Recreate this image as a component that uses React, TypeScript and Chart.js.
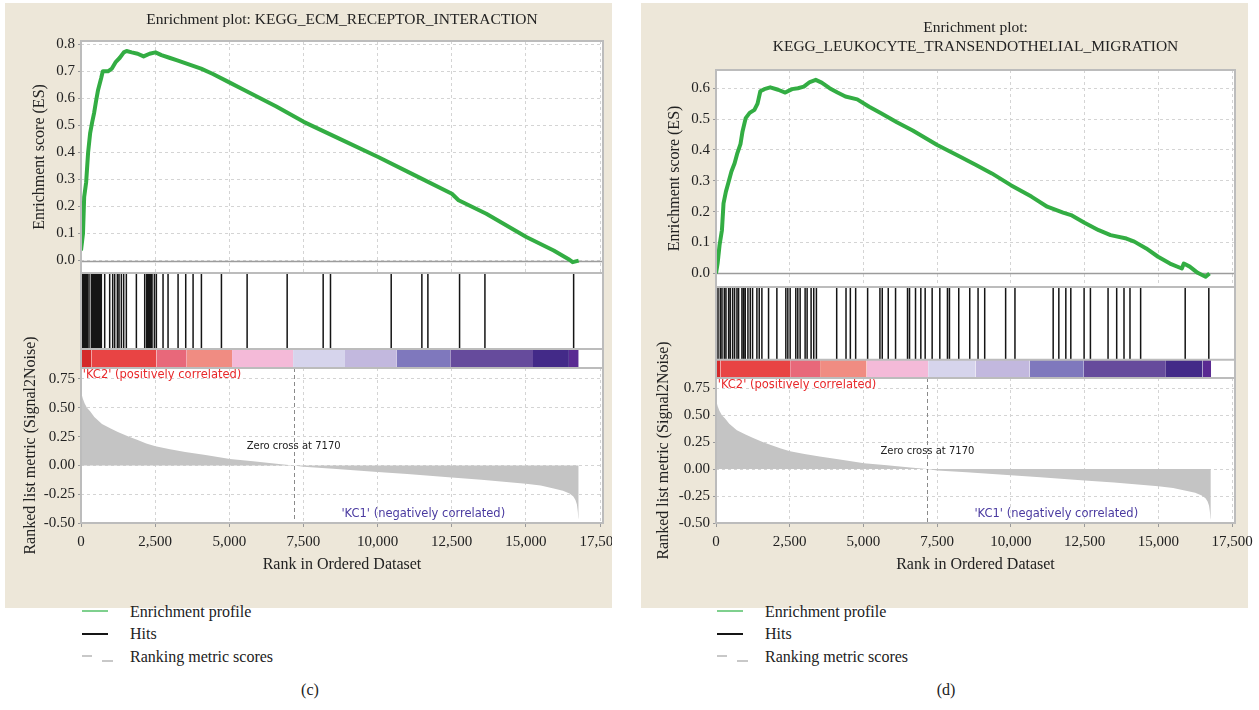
import React, { useEffect, useRef } from "react";
import { Chart, registerables } from "chart.js";

Chart.register(...registerables);

const SERIF = "'Liberation Serif', 'Times New Roman', serif";
const SANS = "'DejaVu Sans', 'Liberation Sans', Arial, sans-serif";
Chart.defaults.font.family = SERIF;
Chart.defaults.color = "#222";

// ---------------- data ----------------
const RANK_MAX = 17600;
const ZERO_CROSS = 7170;
const xTickValues = [0, 2500, 5000, 7500, 10000, 12500, 15000, 17500];

const legendLabels = ["Enrichment profile", "Hits", "Ranking metric scores"];
const captions = ["(c)", "(d)"];
const titleLeft = ["Enrichment plot: KEGG_ECM_RECEPTOR_INTERACTION"];
const titleRight = ["Enrichment plot:", "KEGG_LEUKOCYTE_TRANSENDOTHELIAL_MIGRATION"];
const esAxisTitle = "Enrichment score (ES)";
const rankAxisTitle = "Ranked list metric (Signal2Noise)";
const xAxisTitle = "Rank in Ordered Dataset";
const posLabel = "'KC2' (positively correlated)";
const negLabel = "'KC1' (negatively correlated)";
const zeroLabel = "Zero cross at 7170";

// ranked list metric (shared ranked list)
const metricRanks = [0, 20, 60, 120, 200, 307, 450, 708, 1000, 1242, 1600, 1910, 2200, 2511, 3000, 3513, 4200, 5023, 5800, 6586, 7170, 7500, 8500, 10000, 11000, 12500, 13500, 15000, 15500, 15937, 16250, 16471, 16600, 16671, 16720, 16750, 16765, 16780];
const metricValues = [0.645, 0.62, 0.58, 0.54, 0.5, 0.47, 0.42, 0.36, 0.32, 0.29, 0.25, 0.22, 0.19, 0.165, 0.14, 0.117, 0.09, 0.055, 0.035, 0.015, 0.0, -0.012, -0.03, -0.058, -0.075, -0.105, -0.125, -0.16, -0.175, -0.2, -0.22, -0.245, -0.27, -0.3, -0.34, -0.4, -0.45, -0.47];

// panel (c)
const esLeftRanks = [0, 67, 107, 174, 240, 307, 374, 441, 508, 574, 681, 735, 908, 1042, 1176, 1309, 1443, 1536, 1710, 1910, 2111, 2311, 2511, 2712, 2979, 3246, 3513, 3780, 4048, 4448, 4983, 5517, 6586, 7507, 8723, 10019, 11261, 12504, 12731, 13666, 15015, 15937, 16471, 16578, 16780];
const esLeftScores = [0.037, 0.1, 0.235, 0.29, 0.4, 0.47, 0.51, 0.545, 0.59, 0.63, 0.675, 0.7, 0.7, 0.71, 0.735, 0.75, 0.77, 0.775, 0.77, 0.765, 0.755, 0.765, 0.77, 0.76, 0.75, 0.74, 0.73, 0.72, 0.71, 0.69, 0.66, 0.63, 0.57, 0.513, 0.45, 0.383, 0.315, 0.247, 0.223, 0.173, 0.087, 0.037, 0.003, -0.006, 0.0];
const hitsLeft = [34, 80, 124, 170, 213, 270, 348, 390, 427, 470, 517, 560, 607, 650, 686, 799, 967, 1068, 1136, 1226, 1282, 1361, 1439, 1529, 1867, 2148, 2215, 2261, 2306, 2350, 2395, 2474, 2541, 2766, 2935, 3273, 3531, 3779, 4060, 4735, 5601, 6951, 8165, 8412, 10459, 11493, 11696, 12764, 13619, 16610];
const barLeftStops = [0, 350, 2541, 3565, 5094, 7152, 8900, 10650, 12450, 15240, 16450, 16780];
const barLeftColors = ["#d42a2a", "#e84444", "#e8687a", "#f08c82", "#f4bad8", "#d6d4ec", "#c2b8de", "#7f78bd", "#664b9c", "#432a88", "#5a2a92"];

// panel (d)
const esRightRanks = [0, 54, 121, 201, 255, 336, 429, 523, 631, 725, 832, 899, 1007, 1141, 1302, 1409, 1503, 1637, 1839, 2107, 2349, 2577, 2778, 2979, 3181, 3382, 3583, 3852, 4120, 4389, 4791, 5194, 5597, 6133, 6670, 7502, 8281, 8818, 9354, 9998, 10696, 11233, 11770, 12039, 12495, 12978, 13381, 13918, 14186, 14589, 14991, 15394, 15797, 15864, 16065, 16334, 16602, 16736];
const esRightScores = [0.0, 0.032, 0.092, 0.14, 0.227, 0.265, 0.297, 0.33, 0.357, 0.39, 0.42, 0.46, 0.503, 0.52, 0.53, 0.55, 0.59, 0.597, 0.603, 0.595, 0.586, 0.597, 0.6, 0.605, 0.62, 0.627, 0.618, 0.6, 0.586, 0.573, 0.564, 0.54, 0.519, 0.49, 0.463, 0.416, 0.378, 0.351, 0.324, 0.286, 0.249, 0.216, 0.197, 0.189, 0.164, 0.14, 0.124, 0.113, 0.103, 0.081, 0.054, 0.032, 0.016, 0.032, 0.022, 0.002, -0.011, 0.0];
const hitsRight = [68, 146, 203, 282, 338, 428, 485, 564, 631, 710, 767, 879, 936, 992, 1083, 1161, 1240, 1387, 1466, 1556, 1782, 2064, 2368, 2436, 2515, 2706, 2774, 2853, 3022, 3090, 3225, 3315, 3405, 4093, 4409, 4556, 4736, 5142, 5559, 5638, 5841, 6089, 6495, 6563, 6766, 6946, 7093, 7330, 7590, 7849, 7917, 8232, 8605, 8887, 9112, 9822, 10138, 11434, 11626, 11863, 12032, 12483, 12697, 13295, 13588, 13836, 14039, 14400, 15911, 16712];
const barRightStops = [0, 150, 2515, 3529, 5108, 7195, 8800, 10634, 12472, 15257, 16500, 16790];
const barRightColors = ["#d42a2a", "#e84444", "#e8687a", "#f08c82", "#f4bad8", "#d6d4ec", "#c2b8de", "#7f78bd", "#664b9c", "#432a88", "#5a2a92"];

// ---------------- styling ----------------
const BEIGE = "#ede7d9";
const ES_GREEN = "#33ad43";
const GRID = "#d4d4d4";
const FRAME = "#bcbcbc";

const fmtThousands = (v: number) => String(Math.round(v)).replace(/\B(?=(\d{3})+(?!\d))/g, ",");

const gseaPlugin: any = {
  id: "gsea",
  beforeDraw(chart: any) {
    const { ctx, chartArea: a } = chart;
    ctx.save();
    ctx.fillStyle = "#ffffff";
    ctx.fillRect(a.left, a.top, a.right - a.left, a.bottom - a.top);
    ctx.restore();
  },
  beforeDatasetsDraw(chart: any, _args: any, o: any) {
    if (!o || o.zeroLine === undefined || o.zeroLine === null) return;
    const { ctx, chartArea: a, scales } = chart;
    const y = Math.round(scales.y.getPixelForValue(o.zeroLine)) + 0.5;
    ctx.save();
    ctx.strokeStyle = "#9c9c9c";
    ctx.lineWidth = 1.5;
    ctx.beginPath();
    ctx.moveTo(a.left, y);
    ctx.lineTo(a.right, y);
    ctx.stroke();
    ctx.restore();
  },
  afterDatasetsDraw(chart: any, _args: any, o: any) {
    const { ctx, chartArea: a, scales } = chart;
    ctx.save();
    if (o && o.vline !== undefined && o.vline !== null) {
      const x = Math.round(scales.x.getPixelForValue(o.vline)) + 0.5;
      ctx.setLineDash([4, 3]);
      ctx.strokeStyle = "#8a8a8a";
      ctx.lineWidth = 1;
      ctx.beginPath();
      ctx.moveTo(x, a.top);
      ctx.lineTo(x, a.bottom);
      ctx.stroke();
      ctx.setLineDash([]);
    }
    if (o && o.divider !== undefined && o.divider !== null) {
      const y = scales.y.getPixelForValue(o.divider);
      ctx.strokeStyle = FRAME;
      ctx.lineWidth = 2;
      ctx.beginPath();
      ctx.moveTo(a.left, y);
      ctx.lineTo(a.right, y);
      ctx.stroke();
    }
    const texts = (o && o.texts) || [];
    for (let i = 0; i < texts.length; i++) {
      const t = texts[i];
      ctx.font = t.font;
      ctx.fillStyle = t.color;
      ctx.textAlign = t.align;
      ctx.textBaseline = "middle";
      ctx.fillText(t.text, scales.x.getPixelForValue(t.x), scales.y.getPixelForValue(t.y));
    }
    ctx.strokeStyle = FRAME;
    ctx.lineWidth = 2;
    ctx.strokeRect(a.left, a.top, a.right - a.left, a.bottom - a.top);
    ctx.restore();
  },
};

function xScale(p: any, withLabels: boolean, withGrid: boolean) {
  return {
    type: "linear",
    min: 0,
    max: RANK_MAX,
    afterBuildTicks: (s: any) => {
      s.ticks = xTickValues.map((v) => ({ value: v }));
    },
    afterFit: (s: any) => {
      s.height = withLabels ? 70 : 0;
      s.paddingLeft = 0;
      s.paddingRight = 0;
    },
    ticks: {
      display: withLabels,
      autoSkip: false,
      maxRotation: 0,
      padding: 6,
      font: { size: 15, family: SERIF },
      color: "#222",
      callback: (v: any) => fmtThousands(Number(v)),
    },
    grid: { display: withGrid, color: GRID, drawTicks: withLabels, tickLength: 4, tickColor: "#999" },
    border: { display: false, dash: [3, 3] },
    title: {
      display: withLabels,
      text: xAxisTitle,
      color: "#222",
      font: { size: 16, family: SERIF },
      padding: { top: 0, bottom: 18.4 },
    },
  };
}

function yFit(p: any) {
  return (s: any) => {
    s.width = p.plotLeft;
    s.paddingTop = 0;
    s.paddingBottom = 0;
  };
}

function baseOptions(p: any, padTop: number) {
  return {
    responsive: false,
    animation: false,
    devicePixelRatio: 1,
    events: [],
    layout: { padding: { left: 0, right: p.canvasW - p.plotRight, top: padTop, bottom: 0 } },
  };
}

function esConfig(p: any) {
  return {
    type: "line",
    data: {
      datasets: [
        {
          label: legendLabels[0],
          data: p.esRanks.map((r: number, i: number) => ({ x: r, y: p.esScores[i] })),
          borderColor: ES_GREEN,
          backgroundColor: ES_GREEN,
          borderWidth: 4,
          borderJoinStyle: "round",
          pointRadius: 0,
          fill: false,
          tension: 0,
        },
      ],
    },
    options: {
      ...baseOptions(p, 0),
      plugins: {
        legend: { display: false },
        tooltip: { enabled: false },
        title: {
          display: true,
          text: p.title,
          fullSize: false,
          color: "#222",
          font: { family: SERIF, size: 15.5, weight: "normal", lineHeight: 1.2 },
          padding: p.titlePad,
        },
        gsea: { zeroLine: 0 },
      },
      scales: {
        x: xScale(p, false, true),
        y: {
          type: "linear",
          min: p.esMin,
          max: p.esMax,
          afterFit: yFit(p),
          ticks: {
            stepSize: 0.1,
            includeBounds: false,
            padding: 3,
            font: { size: 15, family: SERIF },
            color: "#222",
            callback: (v: any) => Number(v).toFixed(1),
          },
          grid: { color: GRID, drawTicks: true, tickLength: 3, tickColor: "#999" },
          border: { display: false, dash: [3, 3] },
          title: {
            display: true,
            text: esAxisTitle,
            color: "#222",
            font: { size: 16, family: SERIF },
            padding: { top: p.esTitlePad, bottom: 0 },
          },
        },
      },
    },
    plugins: [gseaPlugin],
  };
}

function hitsConfig(p: any) {
  const bars = p.barColors.map((c: string, i: number) => ({
    label: "bar" + i,
    data: [
      { x: p.barStops[i], y: -0.25 },
      { x: p.barStops[i + 1], y: -0.25 },
    ],
    borderColor: "rgba(0,0,0,0)",
    borderWidth: 0,
    backgroundColor: c,
    fill: { value: 0 },
    pointRadius: 0,
  }));
  const hitData: any[] = [];
  p.hits.forEach((r: number) => {
    hitData.push({ x: r, y: 0 }, { x: r, y: 1 }, { x: r, y: null });
  });
  return {
    type: "line",
    data: {
      datasets: [
        {
          label: legendLabels[1],
          data: hitData,
          borderColor: "#151515",
          borderWidth: 1.5,
          pointRadius: 0,
          fill: false,
          spanGaps: false,
        },
        ...bars,
      ],
    },
    options: {
      ...baseOptions(p, 0),
      plugins: {
        legend: { display: false },
        tooltip: { enabled: false },
        title: { display: false },
        gsea: { divider: 0 },
      },
      scales: {
        x: xScale(p, false, false),
        y: {
          type: "linear",
          min: -0.25,
          max: 1,
          afterFit: yFit(p),
          ticks: { display: false },
          grid: { display: false },
          border: { display: false },
        },
      },
    },
    plugins: [gseaPlugin],
  };
}

function rankConfig(p: any) {
  return {
    type: "line",
    data: {
      datasets: [
        {
          label: legendLabels[2],
          data: metricRanks.map((r, i) => ({ x: r, y: metricValues[i] })),
          borderColor: "rgba(0,0,0,0)",
          borderWidth: 0,
          backgroundColor: "#c4c4c4",
          fill: "origin",
          pointRadius: 0,
          tension: 0,
        },
      ],
    },
    options: {
      ...baseOptions(p, p.hitsH),
      plugins: {
        legend: { display: false },
        tooltip: { enabled: false },
        title: { display: false },
        gsea: {
          vline: ZERO_CROSS,
          texts: [
            { text: posLabel, x: 60, y: 0.78, color: "#e8292b", align: "left", font: "11.5px " + SANS },
            { text: zeroLabel, x: ZERO_CROSS, y: 0.165, color: "#222", align: "center", font: "10px " + SANS },
            { text: negLabel, x: 11540, y: -0.42, color: "#4a3aa0", align: "center", font: "11.5px " + SANS },
          ],
        },
      },
      scales: {
        x: xScale(p, true, true),
        y: {
          type: "linear",
          min: -0.5,
          max: 0.845,
          afterFit: yFit(p),
          ticks: {
            stepSize: 0.25,
            includeBounds: false,
            padding: 3,
            font: { size: 15, family: SERIF },
            color: "#222",
            callback: (v: any) => Number(v).toFixed(2),
          },
          grid: { color: GRID, drawTicks: true, tickLength: 3, tickColor: "#999" },
          border: { display: false, dash: [3, 3] },
          title: {
            display: true,
            text: rankAxisTitle,
            color: "#222",
            font: { size: 16, family: SERIF },
            padding: { top: p.rankTitlePad, bottom: 0 },
          },
        },
      },
    },
    plugins: [gseaPlugin],
  };
}

const panels = [
  {
    key: "c",
    left: 5,
    top: 3,
    width: 607,
    height: 605,
    clip: true,
    canvasW: 640,
    plotLeft: 76,
    plotRight: 598,
    title: titleLeft,
    titlePad: { top: 7.2, bottom: 12.2 },
    esTitlePad: 25.4,
    rankTitlePad: 16,
    esH: 270,
    hitsH: 95,
    rankH: 225,
    esMin: -0.046,
    esMax: 0.812,
    esRanks: esLeftRanks,
    esScores: esLeftScores,
    hits: hitsLeft,
    barStops: barLeftStops,
    barColors: barLeftColors,
    legendX: 82,
    captionX: 310,
    caption: captions[0],
  },
  {
    key: "d",
    left: 641,
    top: 3,
    width: 607,
    height: 605,
    clip: false,
    canvasW: 618,
    plotLeft: 75,
    plotRight: 594,
    title: titleRight,
    titlePad: { top: 16, bottom: 13.8 },
    esTitlePad: 24.1,
    rankTitlePad: 12.9,
    esH: 284,
    hitsH: 91,
    rankH: 215,
    esMin: -0.044,
    esMax: 0.659,
    esRanks: esRightRanks,
    esScores: esRightScores,
    hits: hitsRight,
    barStops: barRightStops,
    barColors: barRightColors,
    legendX: 717,
    captionX: 946,
    caption: captions[1],
  },
];

function ChartCanvas({ x, y, w, h, make }: any) {
  const ref = useRef<HTMLCanvasElement | null>(null);
  useEffect(() => {
    const chart = new Chart(ref.current as HTMLCanvasElement, make());
    return () => chart.destroy();
  }, []);
  return (
    <canvas
      ref={ref}
      width={w}
      height={h}
      style={{ position: "absolute", left: x, top: y, width: w, height: h, display: "block" }}
    />
  );
}

function Legend({ x }: { x: number }) {
  const textStyle: any = {
    position: "absolute",
    left: x + 48,
    height: 20,
    lineHeight: "20px",
    fontFamily: SERIF,
    fontSize: 16,
    color: "#222",
    whiteSpace: "nowrap",
  };
  return (
    <>
      <div style={{ position: "absolute", left: x, top: 610, width: 26, height: 2, background: "#7fd08e" }} />
      <div style={{ ...textStyle, top: 602 }}>{legendLabels[0]}</div>
      <div style={{ position: "absolute", left: x, top: 633, width: 26, height: 2, background: "#151515" }} />
      <div style={{ ...textStyle, top: 624 }}>{legendLabels[1]}</div>
      <div style={{ position: "absolute", left: x, top: 655, width: 10, height: 2, background: "#c8c8c8" }} />
      <div style={{ position: "absolute", left: x + 20, top: 660, width: 11, height: 2, background: "#c8c8c8" }} />
      <div style={{ ...textStyle, top: 647 }}>{legendLabels[2]}</div>
    </>
  );
}

export default function App() {
  return (
    <div
      style={{
        position: "fixed",
        left: 0,
        top: 0,
        width: 1259,
        height: 710,
        background: "#ffffff",
        overflow: "hidden",
      }}
    >
      {panels.map((p) => (
        <div
          key={p.key}
          style={{
            position: "absolute",
            left: p.left,
            top: p.top,
            width: p.width,
            height: p.height,
            background: BEIGE,
            overflow: p.clip ? "hidden" : "visible",
          }}
        >
          <ChartCanvas x={0} y={0} w={p.canvasW} h={p.esH} make={() => esConfig(p)} />
          <ChartCanvas x={0} y={p.esH} w={p.canvasW} h={p.hitsH} make={() => hitsConfig(p)} />
          <ChartCanvas x={0} y={p.esH} w={p.canvasW} h={p.hitsH + p.rankH} make={() => rankConfig(p)} />
        </div>
      ))}
      {panels.map((p) => (
        <Legend key={"lg" + p.key} x={p.legendX} />
      ))}
      {panels.map((p) => (
        <div
          key={"cap" + p.key}
          style={{
            position: "absolute",
            left: p.captionX - 40,
            width: 80,
            top: 679,
            height: 22,
            lineHeight: "22px",
            textAlign: "center",
            fontFamily: SERIF,
            fontSize: 16,
            color: "#222",
          }}
        >
          {p.caption}
        </div>
      ))}
    </div>
  );
}
